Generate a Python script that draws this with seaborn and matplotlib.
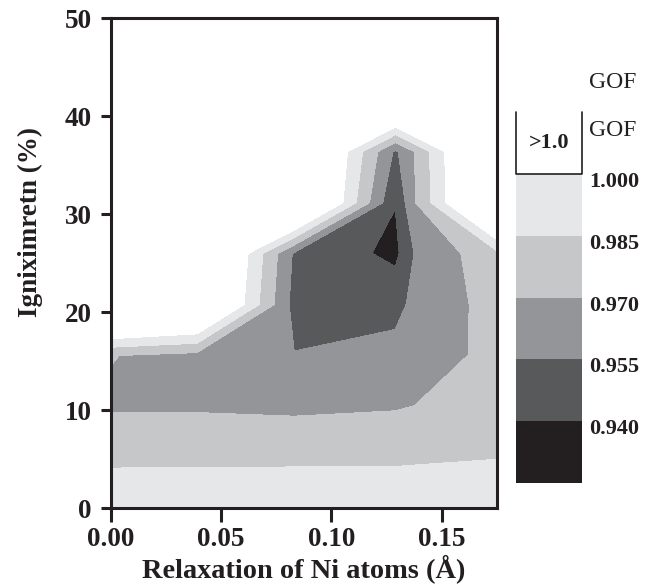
# GOF contour map: relaxation of Ni atoms vs Igniximretn
import numpy as np
import matplotlib
matplotlib.use('Agg')
import matplotlib.pyplot as plt
import seaborn as sns
from matplotlib.transforms import ScaledTranslation

# -----------------------------
# data
# -----------------------------
relax_x = [0.0, 0.039, 0.083, 0.129, 0.138, 0.175]          # Å
nterm_y = [0, 5.2, 10.4, 15.6, 20.8, 26.0, 31.2, 36.4, 41.6, 50]  # %

# GOF on the grid, one row per nterm_y value, one column per relax_x value
gof_grid = [
    [0.992, 0.992, 0.993, 0.9935, 0.9938, 0.995],
    [0.983, 0.9832, 0.983, 0.983, 0.9833, 0.9845],
    [0.968, 0.968, 0.9667, 0.9686, 0.9701, 0.9764],
    [0.9705, 0.9654, 0.9554, 0.959, 0.9635, 0.9735],
    [1.06, 1.047, 0.950, 0.951, 0.9582, 0.976],
    [1.08, 1.052, 0.953, 0.936, 0.956, 0.981],
    [1.10, 1.10, 1.055, 0.9405, 0.9695, 1.05],
    [1.10, 1.10, 1.053, 0.9522, 0.9705, 1.052],
    [1.10, 1.10, 1.10, 1.05, 1.07, 1.10],
    [1.10, 1.10, 1.10, 1.10, 1.10, 1.10],
]

gof_levels = [0.925, 0.940, 0.955, 0.970, 0.985, 1.000, 1.015]
gof_ticks = [0.940, 0.955, 0.970, 0.985, 1.000]
x_ticks = [0.00, 0.05, 0.10, 0.15]
y_ticks = [0, 10, 20, 30, 40, 50]

band_colors = ['#231f20', '#58595b', '#939598', '#c6c7c9', '#e6e7e8', '#ffffff']
ink = '#231f20'

# -----------------------------
# style
# -----------------------------
sns.set_style('ticks')
plt.rcParams['font.family'] = ['Liberation Serif', 'DejaVu Serif']
plt.rcParams['font.weight'] = 'bold'
plt.rcParams['axes.labelweight'] = 'bold'
plt.rcParams['text.color'] = ink
plt.rcParams['axes.labelcolor'] = ink
plt.rcParams['xtick.color'] = ink
plt.rcParams['ytick.color'] = ink

fig = plt.figure(figsize=(6.53, 5.86), dpi=100)
ax = fig.add_axes([0.1695, 0.1331, 0.5916, 0.8357])

cs = ax.contourf(np.array(relax_x), np.array(nterm_y), np.array(gof_grid),
                 levels=gof_levels, colors=band_colors)
cs.set_edgecolor('face')
cs.set_linewidth(0.4)

ax.set_xlim(0, 0.175)
ax.set_ylim(0, 50)
ax.set_xticks(x_ticks)
ax.set_xticklabels([f'{v:.2f}' for v in x_ticks])
ax.set_yticks(y_ticks)

for s in ax.spines.values():
    s.set_visible(True)
    s.set_linewidth(2.2)
    s.set_color(ink)
ax.tick_params(axis='both', direction='out', width=2.2, labelsize=19.5, colors=ink)
ax.tick_params(axis='y', length=7.5, pad=6)
ax.tick_params(axis='x', length=10, pad=4)

ax.set_xlabel('Relaxation of Ni atoms (Å)', fontsize=20.4, labelpad=1)
ax.set_ylabel('Igniximretn (%)', fontsize=19.5)
ax.yaxis.set_label_coords(-0.176, 0.584)

# -----------------------------
# GOF key
# -----------------------------
cax = fig.add_axes([0.790, 0.1758, 0.101, 0.633])
cbar = fig.colorbar(cs, cax=cax, ticks=gof_ticks)
cbar.outline.set_visible(False)
cax.set_yticklabels([f'{v:.3f}' for v in gof_ticks])
cax.tick_params(length=0, labelsize=16, pad=5)
for lbl in cax.get_yticklabels():
    lbl.set_transform(lbl.get_transform() + ScaledTranslation(0, -4 / 72, fig.dpi_scale_trans))

# open box round the >1.0 cell
cax.plot([0, 0, 1, 1], [1.015, 1.0, 1.0, 1.015], transform=cax.get_yaxis_transform(),
         color=ink, lw=1.2, clip_on=False)
cax.text(0.5, 1.0075, '>1.0', transform=cax.get_yaxis_transform(),
         ha='center', va='center', fontsize=16)

fig.text(589 / 653, 1 - 131 / 586, 'GOF', fontsize=17, fontweight='normal', va='center')
fig.text(589 / 653, 1 - 82 / 586, 'GOF', fontsize=17, fontweight='normal', va='center')

fig.savefig('out.png', dpi=100)
